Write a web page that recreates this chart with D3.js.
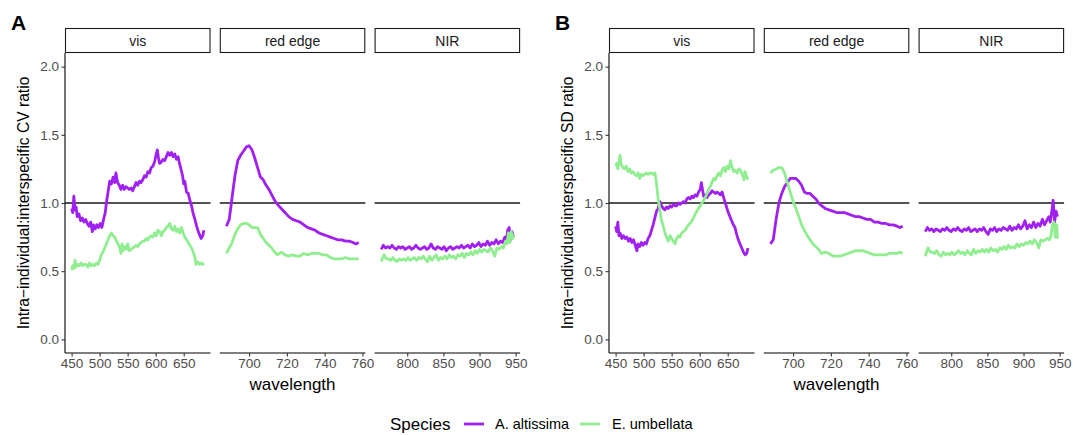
<!DOCTYPE html>
<html>
<head>
<meta charset="utf-8">
<script src="https://cdn.jsdelivr.net/npm/d3@7"></script>
<style>
  body { margin: 0; background: #fff; }
  svg { display: block; font-family: "Liberation Sans", Arial, Helvetica, sans-serif; }
</style>
</head>
<body>
<div id="chart"></div>
<script>
(function() {
    'use strict';

    // ---- data ----
    const regions = ['vis', 'red edge', 'NIR'];
    const species = ['A. altissima', 'E. umbellata'];
    const speciesColors = ['#A020F0', '#90EE90'];
    const yTicks = [0, 0.5, 1.0, 1.5, 2.0];
    const visTicks = [450, 500, 550, 600, 650];
    const redTicks = [700, 720, 740, 760];
    const nirTicks = [800, 850, 900, 950];

    // Panel A: CV ratio
    const cvAltVis = [[450,0.96],[452,0.93],[454,1.05],[456,0.95],[458,0.97],[460,0.90],[463,0.92],[466,0.87],[469,0.89],[472,0.86],[475,0.88],[478,0.85],[481,0.83],[484,0.86],[487,0.79],[489,0.84],[492,0.81],[495,0.84],[498,0.82],[501,0.85],[504,0.82],[507,0.88],[510,0.93],[512,1.00],[515,1.08],[518,1.16],[521,1.14],[524,1.19],[527,1.15],[529,1.22],[532,1.15],[535,1.13],[538,1.10],[541,1.13],[544,1.10],[547,1.12],[550,1.11],[553,1.10],[556,1.11],[559,1.09],[562,1.12],[565,1.15],[568,1.13],[571,1.16],[574,1.15],[577,1.17],[580,1.20],[583,1.19],[586,1.23],[589,1.22],[592,1.26],[595,1.27],[598,1.30],[601,1.36],[603,1.39],[605,1.33],[607,1.29],[610,1.30],[613,1.32],[616,1.31],[619,1.34],[622,1.37],[625,1.35],[628,1.37],[631,1.34],[634,1.36],[637,1.32],[640,1.34],[642,1.30],[645,1.25],[648,1.20],[650,1.14],[652,1.16],[655,1.08],[658,1.07],[661,1.02],[664,0.98],[667,0.92],[670,0.88],[673,0.83],[676,0.79],[679,0.76],[681,0.74],[684,0.76],[686,0.80]];
    const cvUmbVis = [[450,0.51],[452,0.54],[454,0.52],[456,0.58],[458,0.53],[461,0.55],[464,0.54],[467,0.56],[470,0.54],[473,0.55],[476,0.55],[479,0.53],[482,0.56],[485,0.54],[488,0.55],[491,0.54],[494,0.56],[497,0.55],[500,0.58],[503,0.62],[506,0.64],[509,0.67],[512,0.70],[515,0.73],[518,0.76],[521,0.78],[524,0.76],[527,0.75],[530,0.72],[533,0.70],[536,0.67],[538,0.63],[540,0.70],[542,0.65],[545,0.68],[548,0.66],[550,0.70],[553,0.65],[556,0.66],[559,0.67],[562,0.68],[565,0.69],[568,0.68],[571,0.70],[574,0.71],[577,0.72],[580,0.72],[583,0.74],[586,0.73],[589,0.75],[592,0.76],[595,0.75],[598,0.78],[601,0.76],[604,0.80],[607,0.79],[610,0.76],[613,0.79],[616,0.80],[619,0.82],[622,0.83],[625,0.85],[628,0.81],[631,0.80],[634,0.83],[637,0.79],[640,0.81],[643,0.78],[646,0.82],[649,0.78],[652,0.75],[655,0.73],[658,0.71],[661,0.69],[664,0.67],[667,0.64],[670,0.60],[672,0.55],[675,0.57],[678,0.55],[681,0.56],[684,0.55],[686,0.56]];
    const cvAltRed = [[688,0.83],[689.5,0.88],[691,1.04],[692.5,1.20],[694,1.31],[695.5,1.35],[697,1.38],[698.5,1.41],[700,1.42],[701.5,1.39],[703,1.33],[704.5,1.26],[706,1.19],[707.5,1.17],[709,1.13],[710.5,1.10],[712,1.06],[713.5,1.02],[715,0.99],[717,0.96],[719,0.93],[721,0.90],[723,0.88],[725,0.87],[727,0.86],[729,0.84],[731,0.82],[733,0.81],[735,0.80],[737,0.78],[739,0.77],[741,0.76],[743,0.75],[745,0.74],[747,0.73],[749,0.73],[751,0.72],[753,0.72],[755,0.71],[756.5,0.70],[758,0.71]];
    const cvUmbRed = [[688,0.63],[689.5,0.67],[691,0.71],[692.5,0.77],[694,0.81],[695.5,0.84],[697,0.85],[698.5,0.85],[700,0.84],[701.5,0.82],[703,0.82],[704.5,0.82],[706,0.77],[707.5,0.74],[709,0.71],[710.5,0.69],[712,0.67],[713.5,0.64],[715,0.62],[717,0.64],[719,0.62],[721,0.61],[723,0.62],[725,0.61],[727,0.61],[729,0.63],[731,0.62],[733,0.63],[735,0.63],[737,0.63],[739,0.62],[741,0.62],[743,0.60],[745,0.59],[747,0.59],[749,0.59],[751,0.60],[753,0.59],[755,0.59],[756.5,0.59],[758,0.59]];
    const cvAltNir = [[764,0.66],[767,0.69],[770,0.67],[773,0.68],[776,0.67],[779,0.69],[782,0.67],[785,0.66],[788,0.68],[791,0.67],[794,0.68],[797,0.66],[800,0.67],[803,0.68],[806,0.66],[809,0.67],[812,0.69],[815,0.67],[818,0.66],[821,0.67],[824,0.68],[827,0.66],[830,0.67],[833,0.70],[836,0.67],[839,0.66],[842,0.68],[845,0.67],[848,0.66],[851,0.68],[854,0.65],[857,0.67],[860,0.68],[863,0.66],[866,0.67],[869,0.68],[872,0.67],[875,0.69],[878,0.67],[881,0.68],[884,0.69],[887,0.67],[890,0.70],[893,0.68],[896,0.69],[899,0.71],[902,0.68],[905,0.70],[908,0.69],[911,0.72],[914,0.69],[917,0.71],[920,0.70],[923,0.73],[926,0.70],[929,0.72],[932,0.71],[935,0.75],[937,0.72],[939,0.80],[941,0.82],[943,0.73],[945,0.79],[947,0.75]];
    const cvUmbNir = [[764,0.57],[766,0.60],[768,0.62],[771,0.59],[774,0.59],[777,0.58],[780,0.60],[783,0.58],[786,0.57],[789,0.59],[792,0.58],[795,0.59],[798,0.58],[801,0.60],[804,0.58],[807,0.59],[810,0.60],[813,0.58],[816,0.60],[819,0.59],[822,0.61],[825,0.59],[828,0.57],[831,0.61],[834,0.58],[837,0.60],[840,0.62],[843,0.58],[846,0.60],[849,0.59],[852,0.61],[855,0.59],[858,0.62],[861,0.60],[864,0.61],[867,0.59],[870,0.62],[873,0.61],[876,0.63],[879,0.60],[882,0.63],[885,0.62],[888,0.64],[891,0.62],[894,0.65],[897,0.63],[900,0.66],[903,0.64],[906,0.66],[909,0.65],[912,0.64],[915,0.67],[918,0.65],[921,0.61],[924,0.67],[927,0.66],[930,0.68],[933,0.67],[936,0.72],[938,0.70],[940,0.78],[942,0.71],[944,0.79],[946,0.74],[947,0.77]];

    // Panel B: SD ratio
    const sdAltVis = [[450,0.83],[452,0.79],[454,0.86],[456,0.76],[458,0.78],[461,0.74],[464,0.76],[467,0.74],[470,0.75],[473,0.72],[476,0.74],[479,0.71],[482,0.73],[485,0.69],[488,0.65],[490,0.70],[493,0.68],[496,0.71],[499,0.69],[502,0.71],[505,0.70],[508,0.74],[511,0.76],[514,0.80],[517,0.84],[520,0.89],[523,0.94],[526,0.96],[529,1.01],[532,0.98],[535,0.96],[538,0.95],[541,0.97],[544,0.96],[547,0.98],[550,0.97],[553,0.99],[556,0.98],[559,0.98],[562,1.00],[565,0.99],[568,1.00],[571,1.01],[574,1.00],[577,1.03],[580,1.04],[583,1.03],[586,1.05],[589,1.04],[592,1.06],[595,1.05],[598,1.08],[601,1.10],[603,1.15],[605,1.10],[607,1.05],[610,1.06],[613,1.04],[616,1.06],[619,1.07],[622,1.09],[625,1.08],[628,1.07],[631,1.08],[634,1.07],[637,1.06],[640,1.08],[642,1.05],[645,1.01],[648,0.97],[651,0.93],[654,0.90],[657,0.87],[660,0.84],[663,0.82],[666,0.77],[669,0.73],[672,0.70],[675,0.67],[678,0.64],[681,0.62],[684,0.63],[686,0.67]];
    const sdUmbVis = [[450,1.27],[452,1.29],[454,1.25],[456,1.30],[458,1.35],[460,1.28],[463,1.26],[466,1.25],[469,1.27],[472,1.23],[475,1.25],[478,1.22],[481,1.23],[484,1.21],[487,1.20],[490,1.22],[493,1.18],[496,1.21],[499,1.20],[502,1.21],[505,1.22],[508,1.21],[511,1.22],[514,1.22],[517,1.21],[520,1.22],[522,1.18],[524,1.10],[526,1.03],[528,0.98],[530,0.92],[532,0.87],[535,0.83],[538,0.78],[541,0.75],[544,0.72],[547,0.76],[550,0.74],[553,0.72],[556,0.70],[559,0.74],[562,0.76],[565,0.75],[568,0.78],[571,0.79],[574,0.80],[577,0.82],[580,0.84],[583,0.85],[586,0.87],[589,0.89],[592,0.92],[595,0.94],[598,0.96],[601,0.98],[604,1.00],[607,1.02],[610,1.04],[613,1.07],[616,1.10],[619,1.12],[622,1.15],[625,1.18],[628,1.17],[631,1.20],[634,1.22],[637,1.20],[640,1.24],[643,1.26],[646,1.23],[649,1.27],[652,1.25],[655,1.31],[658,1.26],[661,1.23],[664,1.24],[667,1.22],[670,1.25],[673,1.24],[676,1.21],[679,1.17],[681,1.23],[684,1.19],[686,1.17]];
    const sdAltRed = [[688,0.70],[689.5,0.73],[691,0.88],[692.5,1.00],[694,1.07],[695.5,1.12],[697,1.15],[698.5,1.18],[700,1.18],[701.5,1.18],[703,1.16],[704.5,1.13],[706,1.08],[707.5,1.07],[709,1.07],[710.5,1.05],[712,1.03],[713.5,1.00],[715,0.98],[717,0.96],[719,0.95],[721,0.94],[723,0.93],[725,0.93],[727,0.93],[729,0.92],[731,0.91],[733,0.90],[735,0.90],[737,0.89],[739,0.88],[741,0.88],[743,0.86],[745,0.86],[747,0.85],[749,0.85],[751,0.84],[753,0.84],[755,0.83],[756.5,0.82],[758,0.83]];
    const sdUmbRed = [[688,1.22],[689.5,1.24],[691,1.25],[692.5,1.26],[694,1.26],[695.5,1.22],[697,1.15],[698.5,1.08],[700,1.01],[701.5,0.96],[703,0.90],[704.5,0.84],[706,0.80],[707.5,0.76],[709,0.73],[710.5,0.70],[712,0.68],[713.5,0.66],[715,0.63],[717,0.64],[719,0.63],[721,0.61],[723,0.61],[725,0.61],[727,0.62],[729,0.63],[731,0.64],[733,0.65],[735,0.65],[737,0.65],[739,0.64],[741,0.63],[743,0.62],[745,0.62],[747,0.62],[749,0.62],[751,0.63],[753,0.63],[755,0.63],[756.5,0.64],[758,0.63]];
    const sdAltNir = [[764,0.79],[767,0.82],[770,0.80],[773,0.81],[776,0.79],[779,0.81],[782,0.80],[785,0.79],[788,0.81],[791,0.80],[794,0.82],[797,0.80],[800,0.79],[803,0.81],[806,0.80],[809,0.82],[812,0.80],[815,0.79],[818,0.81],[821,0.80],[824,0.82],[827,0.79],[830,0.80],[833,0.81],[836,0.79],[839,0.81],[842,0.80],[845,0.82],[848,0.79],[851,0.77],[854,0.81],[857,0.80],[860,0.82],[863,0.79],[866,0.81],[869,0.80],[872,0.82],[875,0.81],[878,0.80],[881,0.83],[884,0.80],[887,0.82],[890,0.81],[893,0.84],[896,0.81],[899,0.83],[902,0.87],[905,0.81],[908,0.84],[911,0.82],[914,0.86],[917,0.82],[920,0.85],[923,0.83],[926,0.88],[929,0.84],[932,0.87],[935,0.90],[937,0.86],[939,0.93],[941,1.02],[943,0.86],[945,0.94],[947,0.90]];
    const sdUmbNir = [[764,0.61],[766,0.64],[768,0.67],[771,0.64],[774,0.64],[777,0.63],[780,0.65],[783,0.62],[786,0.61],[789,0.64],[792,0.62],[795,0.63],[798,0.62],[801,0.64],[804,0.62],[807,0.63],[810,0.65],[813,0.63],[816,0.64],[819,0.62],[822,0.65],[825,0.63],[828,0.62],[831,0.66],[834,0.63],[837,0.65],[840,0.64],[843,0.66],[846,0.64],[849,0.66],[852,0.64],[855,0.67],[858,0.65],[861,0.66],[864,0.64],[867,0.67],[870,0.66],[873,0.68],[876,0.66],[879,0.69],[882,0.67],[885,0.68],[888,0.67],[891,0.70],[894,0.68],[897,0.70],[900,0.69],[903,0.71],[906,0.70],[909,0.72],[912,0.70],[915,0.73],[918,0.71],[921,0.67],[924,0.73],[927,0.72],[930,0.73],[933,0.74],[936,0.73],[938,0.76],[940,0.84],[942,0.86],[944,0.75],[946,0.84],[947,0.74]];

    // ---- layout ----
    const W = 1073, H = 435;
    const plotTop = 53, plotBottom = 353;
    const stripTop = 28;
    const panelW = 145.5, panelGap = 9.3;
    const figures = [
        { tag: 'A', left: 65, ylab: 'Intra\u2212individual:interspecific CV ratio',
          data: [[cvAltVis, cvUmbVis], [cvAltRed, cvUmbRed], [cvAltNir, cvUmbNir]] },
        { tag: 'B', left: 609, ylab: 'Intra\u2212individual:interspecific SD ratio',
          data: [[sdAltVis, sdUmbVis], [sdAltRed, sdUmbRed], [sdAltNir, sdUmbNir]] }
    ];
    const regionTicks = [visTicks, redTicks, nirTicks];

    const svg = d3.select('#chart').append('svg')
        .attr('width', W).attr('height', H);

    const y = d3.scaleLinear().domain([-0.1, 2.1]).range([plotBottom, plotTop]);

    // ggplot-style 5% expansion around the data extent of each facet
    function expanded(ext) {
        const pad = (ext[1] - ext[0]) * 0.05;
        return [ext[0] - pad, ext[1] + pad];
    }

    figures.forEach(fig => {
        const g = svg.append('g');

        // panel tag
        g.append('text')
            .attr('x', fig.left - 54).attr('y', 30)
            .attr('font-size', 21).attr('font-weight', 'bold')
            .text(fig.tag);

        // y axis
        const yAxis = g.append('g')
            .attr('transform', `translate(${fig.left},0)`)
            .call(d3.axisLeft(y).tickValues(yTicks).tickFormat(d3.format('.1f')).tickSize(3.5).tickPadding(2.5));
        yAxis.select('.domain').attr('d', `M0,${plotTop}V${plotBottom}`).attr('stroke', '#000').attr('stroke-width', 1.1);
        yAxis.selectAll('.tick line').attr('stroke', '#333').attr('stroke-width', 1.1);
        yAxis.selectAll('.tick text').attr('font-size', 13.5).attr('fill', '#4d4d4d')
            .attr('font-family', '"Liberation Sans", Arial, sans-serif');

        g.append('text')
            .attr('transform', `translate(${fig.left - 36},${(plotTop + plotBottom) / 2}) rotate(-90)`)
            .attr('text-anchor', 'middle')
            .attr('font-size', 15.6)
            .text(fig.ylab);

        regions.forEach((reg, i) => {
            const px = fig.left + i * (panelW + panelGap);
            const series = fig.data[i];
            const ext = d3.extent(series.flat(), d => d[0]);
            const x = d3.scaleLinear().domain(expanded(ext)).range([px, px + panelW]);

            // strip
            g.append('rect')
                .attr('x', px + 0.5).attr('y', stripTop + 0.5)
                .attr('width', panelW - 1).attr('height', plotTop - stripTop - 1)
                .attr('fill', '#fff').attr('stroke', '#1a1a1a').attr('stroke-width', 1.1);
            g.append('text')
                .attr('x', px + panelW / 2).attr('y', stripTop + 17.5)
                .attr('text-anchor', 'middle').attr('font-size', 14).attr('fill', '#1a1a1a')
                .text(reg);

            // x axis
            const xAxis = g.append('g')
                .attr('transform', `translate(0,${plotBottom})`)
                .call(d3.axisBottom(x).tickValues(regionTicks[i]).tickSize(3.5).tickPadding(2));
            xAxis.select('.domain').attr('d', `M${px},0H${px + panelW}`).attr('stroke', '#000').attr('stroke-width', 1.1);
            xAxis.selectAll('.tick line').attr('stroke', '#333').attr('stroke-width', 1.1);
            xAxis.selectAll('.tick text').attr('font-size', 13.5).attr('fill', '#4d4d4d')
                .attr('font-family', '"Liberation Sans", Arial, sans-serif');

            // reference line at 1
            g.append('line')
                .attr('x1', px).attr('x2', px + panelW)
                .attr('y1', y(1)).attr('y2', y(1))
                .attr('stroke', '#1a1a1a').attr('stroke-width', 1.4);

            const line = d3.line().x(d => x(d[0])).y(d => y(d[1]));
            series.forEach((s, k) => {
                g.append('path')
                    .datum(s)
                    .attr('d', line)
                    .attr('fill', 'none')
                    .attr('stroke', speciesColors[k])
                    .attr('stroke-width', 2.8)
                    .attr('stroke-linejoin', 'round');
            });
        });

        // x title
        g.append('text')
            .attr('x', fig.left + (3 * panelW + 2 * panelGap) / 2).attr('y', 390)
            .attr('text-anchor', 'middle').attr('font-size', 17)
            .text('wavelength');
    });

    // legend
    const leg = svg.append('g').attr('transform', 'translate(390,424)');
    leg.append('text').attr('x', 0).attr('y', 5.5).attr('font-size', 17).text('Species');
    const legItems = [[74, 105], [190, 222]];
    species.forEach((sp, k) => {
        leg.append('line')
            .attr('x1', legItems[k][0]).attr('x2', legItems[k][0] + 20)
            .attr('y1', 0).attr('y2', 0)
            .attr('stroke', speciesColors[k]).attr('stroke-width', 2.8);
        leg.append('text')
            .attr('x', legItems[k][1]).attr('y', 5)
            .attr('font-size', 14.5)
            .text(sp);
    });
})();
</script>
</body>
</html>
